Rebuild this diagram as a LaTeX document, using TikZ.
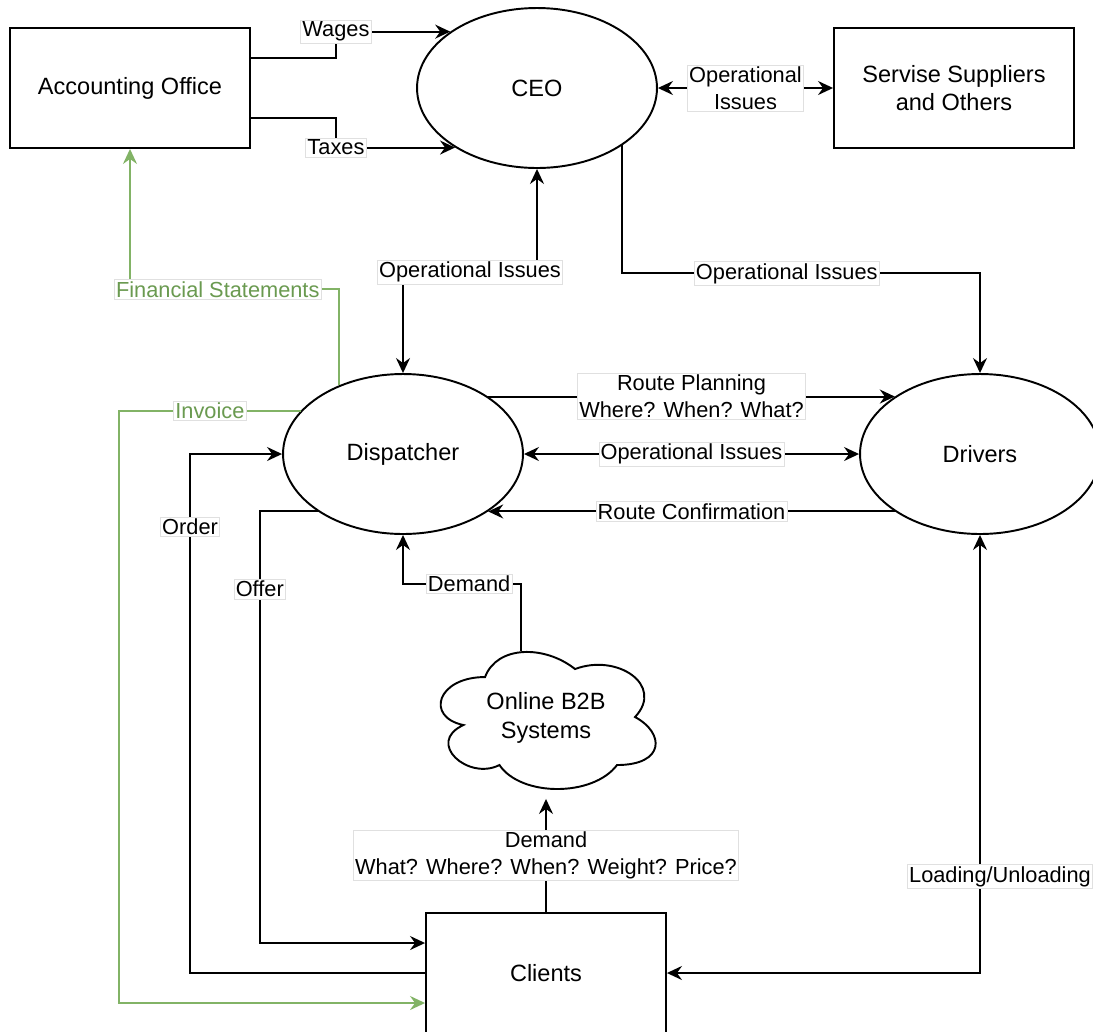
\documentclass[tikz,border=0pt]{standalone}
\usepackage{fontspec}
\setmainfont{Liberation Sans}
\usetikzlibrary{arrows.meta,shapes.geometric}
\definecolor{fingreen}{HTML}{82B366}
\definecolor{fintext}{HTML}{6A9A50}
\begin{document}
\begin{tikzpicture}[x=0.02cm,y=-0.02cm,line width=1.1pt,
    box/.style={draw,rectangle,minimum width=4.8cm,minimum height=2.4cm,align=center,font=\fontsize{13.4}{16.4}\selectfont},
    oval/.style={draw,ellipse,minimum width=4.8cm,minimum height=3.2cm,inner sep=0pt,font=\fontsize{13.4}{16.4}\selectfont},
    lbl/.style={fill=white,draw=black!12,line width=0.4pt,inner sep=1pt,align=center,font=\fontsize{12.4}{15.2}\selectfont},
    glbl/.style={lbl,text=fintext},
    flow/.style={-{Stealth[length=0.3cm,width=0.28cm,inset=0.1cm]}},
    flowboth/.style={{Stealth[length=0.3cm,width=0.28cm,inset=0.1cm]}-{Stealth[length=0.3cm,width=0.28cm,inset=0.1cm]}},
    money/.style={flow,draw=fingreen}]
            \useasboundingbox (0,0) rectangle (1093,1032);
            \node[box] (acc) at (130,88) {Accounting Office};
            \node[oval] (ceo) at (537,88) {CEO};
            \node[box] (sup) at (954,88) {Servise Suppliers\\and Others};
            \node[oval] (disp) at (403,454) {Dispatcher};
            \node[oval] (drv) at (980,454) {Drivers};
            \node[minimum width=4.8cm,minimum height=3.2cm,inner sep=0pt,align=center,font=\fontsize{13.4}{16.4}\selectfont] (b2b) at (546,718) {Online B2B\\Systems};
            \draw[shift={(b2b.north west)},x=4.8cm,y=-3.2cm] (0.25,0.25)
                .. controls (0.05,0.25) and (0,0.5) .. (0.16,0.55)
                .. controls (0,0.66) and (0.18,0.9) .. (0.31,0.8)
                .. controls (0.4,1) and (0.7,1) .. (0.8,0.8)
                .. controls (1,0.8) and (1,0.6) .. (0.875,0.5)
                .. controls (1,0.3) and (0.8,0.1) .. (0.625,0.2)
                .. controls (0.5,0.05) and (0.3,0.05) .. (0.25,0.25) -- cycle;
            \node[box] (cli) at (546,973) {Clients};
            \coordinate (b2btop) at (521,651);
            \draw[flow] ([yshift=.6cm]acc.east) -- ++(85,0) |- node[lbl]{Wages} (ceo.147);
            \draw[flow] ([yshift=-.6cm]acc.east) -- ++(85,0) |- node[lbl]{Taxes} (ceo.216);
            \draw[flowboth] (ceo.east) -- node[lbl]{Operational\\Issues} (sup.west);
            \draw[flowboth] (ceo.south) -- ++(0,103) -| node[lbl,pos=0.25]{Operational Issues} (disp.north);
            \draw[flow] (ceo.-34) -- ++(0,128) -| node[lbl,pos=0.23]{Operational Issues} (drv.north);
            \draw[flow] (disp.34) -- node[lbl]{Route Planning\\Where? When? What?} (drv.146);
            \draw[flowboth] (disp.east) -- node[lbl]{Operational Issues} (drv.west);
            \draw[flow] (drv.214) -- node[lbl]{Route Confirmation} (disp.-34);
            \draw[flow] (b2btop) -- ++(0,-67) -| node[lbl,pos=0.22]{Demand} (disp.south);
            \draw[flow] (cli.north) -- node[lbl]{Demand\\What? Where? When? Weight? Price?} (b2b.south);
            \draw[flow] (disp.214) -- ++(-58,0) |- node[lbl,pos=0.09]{Offer} ([yshift=.6cm]cli.west);
            \draw[flow] (cli.west) -- ++(-235,0) |- node[lbl,pos=0.43]{Order} (disp.west);
            \draw[money] (disp.133) -- ++(0,-96) -| node[glbl,pos=0.29]{Financial Statements} (acc.south);
            \draw[money] (disp.157) -- node[glbl]{Invoice} ++(-182,0) |- ([yshift=-.6cm]cli.west);
            \draw[flowboth] (cli.east) -| node[lbl,pos=0.61,xshift=.4cm]{Loading/Unloading} (drv.south);
        \end{tikzpicture}
\end{document}
